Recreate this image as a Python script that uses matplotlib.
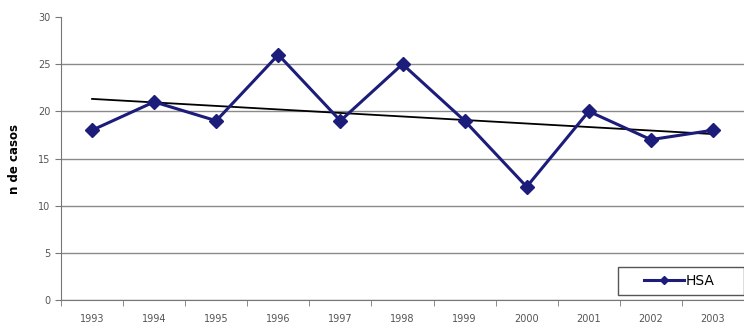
import matplotlib
matplotlib.use("Agg")
import matplotlib.pyplot as plt
from matplotlib.patches import Rectangle
import numpy as np

years = ["1993", "1994", "1995", "1996", "1997", "1998", "1999", "2000", "2001", "2002", "2003"]
hsa = [18, 21, 19, 26, 19, 25, 19, 12, 20, 17, 18]
y_ticks = [0, 5, 10, 15, 20, 25, 30]

fig = plt.figure(figsize=(7.44, 3.25), dpi=100)
ax = fig.add_axes([61/744, 1-300/325, 1-61/744, (300-17)/325])

x = np.arange(len(years))
ax.plot(x, hsa, color="#1c1c7a", lw=2.2, marker="D", ms=7, label="HSA", zorder=3)
coef = np.polyfit(x, hsa, 1)
ax.plot(x, np.polyval(coef, x), color="black", lw=1.3, zorder=2)

ax.set_ylim(0, 30)
ax.set_yticks(y_ticks)
ax.set_xlim(-0.5, len(years) - 0.5)
ax.set_xticks(x)
ax.set_xticklabels(years)
ax.set_xticks(np.arange(-0.5, len(years), 1), minor=True)
ax.tick_params(axis="x", which="major", length=0, labelsize=7, colors="#555555", pad=10)
ax.tick_params(axis="x", which="minor", length=4, color="#777777", direction="out")
ax.tick_params(axis="y", length=4, color="#777777", labelsize=7, colors="#555555")
ax.yaxis.grid(True, color="#8a8a8a", lw=1)
ax.get_ygridlines()[-1].set_visible(False)
ax.set_axisbelow(True)
for s in ["top", "right"]:
    ax.spines[s].set_visible(False)
for s in ["left", "bottom"]:
    ax.spines[s].set_color("#777777")
ax.set_ylabel("n de casos", fontsize=8.5, fontweight="bold", labelpad=12)

# legend frame box (axes coords)
bx0, by0, bw, bh = (618-61)/683, (300-295)/283, 126/683, 28/283
ax.add_patch(Rectangle((bx0, by0), bw, bh, transform=ax.transAxes, fill=True,
                       facecolor="white", edgecolor="#555555", lw=1, zorder=4, clip_on=False))
leg = ax.legend(loc="center", bbox_to_anchor=(bx0 + bw/2 - 0.003, by0 + bh/2), fontsize=10,
                frameon=False, handlelength=2.9, markerscale=0.6, handletextpad=0.1,
                borderaxespad=0.0)
leg.set_zorder(5)

fig.savefig("out.png", dpi=100)
